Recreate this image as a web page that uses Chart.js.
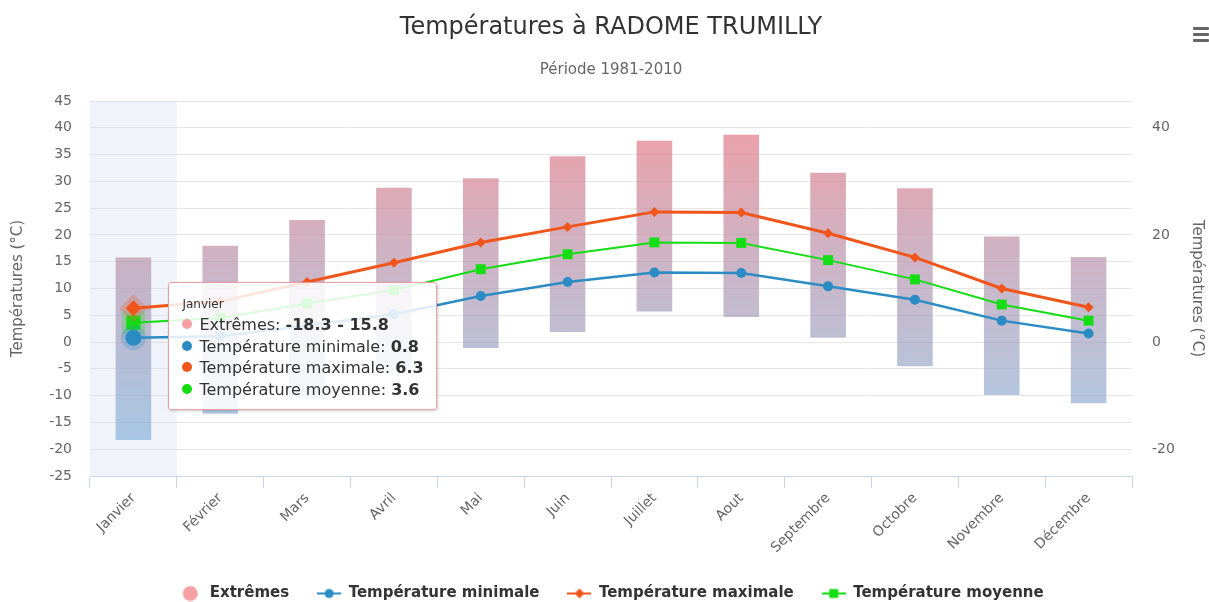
<!DOCTYPE html>
<html lang="fr">
<head>
<meta charset="utf-8">
<title>Températures à RADOME TRUMILLY</title>
<script src="https://cdn.jsdelivr.net/npm/chart.js@4.4.1/dist/chart.umd.min.js"></script>
<style>
  html, body { margin: 0; padding: 0; background: #fff; overflow: hidden; }
  #wrap { position: relative; width: 1209px; height: 611px; }
  #menu { position: absolute; right: 0; top: 27px; width: 16px; }
  #menu span { display: block; height: 3px; background: #666; margin-bottom: 3px; border-radius: 1px; }
  #tip {
    position: absolute; opacity: 0; pointer-events: none;
    background: rgba(255, 255, 255, 0.85);
    border: 1px solid #eb9ea2; border-radius: 3px;
    box-shadow: 1px 1px 3px rgba(0, 0, 0, 0.2);
    padding: 13px 12px 9px 13px;
    font-family: 'DejaVu Sans', sans-serif; color: #333; white-space: nowrap;
  }
  #tip .t { font-size: 12px; line-height: 16px; margin-bottom: 2px; }
  #tip .r { font-size: 16px; line-height: 21.4px; }
  #tip .d { display: inline-block; width: 10px; height: 10px; border-radius: 50%; margin-right: 7px; vertical-align: 1px; }
</style>
</head>
<body>
<div id="wrap">
  <canvas id="c" width="1209" height="611"></canvas>
  <div id="menu"><span></span><span></span><span></span></div>
  <div id="tip"></div>
</div>
<script>
const MONTHS = ['Janvier', 'Février', 'Mars', 'Avril', 'Mai', 'Juin', 'Juillet', 'Aout', 'Septembre', 'Octobre', 'Novembre', 'Décembre']
const EXT_LOW = [-18.3, -13.4, -10.5, -5.5, -1.1, 1.9, 5.7, 4.7, 0.8, -4.5, -9.9, -11.4]
const EXT_HIGH = [15.8, 18.0, 22.8, 28.8, 30.6, 34.7, 37.6, 38.7, 31.6, 28.7, 19.7, 15.9]
const T_MIN = [0.8, 1.1, 3.1, 5.2, 8.6, 11.2, 13.0, 12.9, 10.4, 7.9, 4.0, 1.6]
const T_MAX = [6.3, 7.6, 11.2, 14.8, 18.6, 21.5, 24.3, 24.2, 20.3, 15.8, 10.0, 6.5]
const T_MOY = [3.6, 4.5, 7.2, 9.7, 13.6, 16.4, 18.6, 18.5, 15.3, 11.7, 7.0, 4.0]
const HOVER_INDEX = 0

const C_EXT = '#f4a0a4'
const C_MIN = '#2b8cc4'
const C_MAX = '#f0561b'
const C_MOY = '#14dd14'
const TEXT = '#666666'
const GRID = '#e6e6e6'
const AXIS = '#ccd6eb'

Chart.defaults.font.family = "'DejaVu Sans', sans-serif"

function legendIcon(color, style) {
  const cv = document.createElement('canvas')
  cv.width = 24
  cv.height = 16
  const g = cv.getContext('2d')
  g.fillStyle = color
  if (style === 'dot') {
    g.beginPath()
    g.arc(12, 8, 7.5, 0, Math.PI * 2)
    g.fill()
    return cv
  }
  g.strokeStyle = color
  g.lineWidth = 2
  g.beginPath()
  g.moveTo(0, 8)
  g.lineTo(24, 8)
  g.stroke()
  g.beginPath()
  if (style === 'circle') g.arc(12, 8, 4.5, 0, Math.PI * 2)
  if (style === 'diamond') { g.moveTo(12, 3); g.lineTo(17, 8); g.lineTo(12, 13); g.lineTo(7, 8); g.closePath() }
  if (style === 'square') g.rect(7.5, 3.5, 9, 9)
  g.fill()
  return cv
}

const ICONS = [legendIcon(C_EXT, 'dot'), legendIcon(C_MIN, 'circle'), legendIcon(C_MAX, 'diamond'), legendIcon(C_MOY, 'square')]
const TIP_COLORS = [C_EXT, C_MIN, C_MAX, C_MOY]

function barGradient(ctx) {
  const area = ctx.chart.chartArea
  if (!area) return C_EXT
  const g = ctx.chart.ctx.createLinearGradient(0, area.top, 0, area.bottom)
  g.addColorStop(0, 'rgba(240, 128, 136, 0.78)')
  g.addColorStop(1, 'rgba(110, 176, 222, 0.6)')
  return g
}

const hoverBand = {
  id: 'hoverBand',
  beforeDatasetsDraw(chart) {
    const x = chart.scales.x
    const { top, bottom } = chart.chartArea
    const half = (x.getPixelForValue(1) - x.getPixelForValue(0)) / 2
    const cx = x.getPixelForValue(HOVER_INDEX)
    const ctx = chart.ctx
    ctx.save()
    ctx.fillStyle = 'rgba(204, 214, 235, 0.3)'
    ctx.fillRect(cx - half, top, half * 2, bottom - top)
    ctx.restore()
  },
}

const fmt = (v) => v.toFixed(1)

function renderTip({ chart, tooltip }) {
  const el = document.getElementById('tip')
  if (tooltip.opacity === 0) { el.style.opacity = 0; return }
  const pts = tooltip.dataPoints
  let html = `<div class="t">${pts[0].label}</div>`
  pts.forEach((p) => {
    const v = Array.isArray(p.raw) ? `${fmt(p.raw[0])} - ${fmt(p.raw[1])}` : fmt(p.raw)
    html += `<div class="r"><span class="d" style="background:${TIP_COLORS[p.datasetIndex]}"></span>${p.dataset.label}: <b>${v}</b></div>`
  })
  el.innerHTML = html
  const lineVals = pts.filter((p) => !Array.isArray(p.raw)).map((p) => p.raw)
  const yTop = chart.scales.y.getPixelForValue(Math.max(...lineVals))
  el.style.left = (tooltip.caretX + 35) + 'px'
  el.style.top = (yTop - 26) + 'px'
  el.style.opacity = 1
}

function lineSet(label, data, color, style, radius, width) {
  return {
    type: 'line',
    label,
    data,
    order: 0,
    borderColor: color,
    backgroundColor: color,
    borderWidth: width,
    pointStyle: style,
    pointRadius: radius,
    pointBorderWidth: 0,
    pointHoverRadius: radius + 3,
    pointHoverBorderWidth: 9,
    pointHoverBorderColor: color + '40',
    pointHoverBackgroundColor: color,
    tension: 0,
  }
}

const chart = new Chart(document.getElementById('c'), {
  type: 'bar',
  data: {
    labels: MONTHS,
    datasets: [
      {
        label: 'Extrêmes',
        data: MONTHS.map((_, i) => [EXT_LOW[i], EXT_HIGH[i]]),
        order: 1,
        backgroundColor: barGradient,
        hoverBackgroundColor: barGradient,
        borderWidth: 0,
        categoryPercentage: 0.41,
        barPercentage: 1,
      },
      lineSet('Température minimale', T_MIN, C_MIN, 'circle', 5, 2.5),
      lineSet('Température maximale', T_MAX, C_MAX, 'rectRot', 5, 3),
      lineSet('Température moyenne', T_MOY, C_MOY, 'rect', 7, 2),
    ],
  },
  plugins: [hoverBand],
  options: {
    responsive: false,
    animation: false,
    events: [],
    interaction: { mode: 'index', intersect: false },
    layout: { padding: 0 },
    plugins: {
      title: {
        display: true,
        fullSize: false,
        text: 'Températures à RADOME TRUMILLY',
        color: '#333333',
        font: { size: 24, weight: 'normal' },
        padding: { top: 13.6, bottom: 9 },
      },
      subtitle: {
        display: true,
        fullSize: false,
        text: 'Période 1981-2010',
        color: TEXT,
        font: { size: 15 },
        padding: { top: 10, bottom: 21.6 },
      },
      legend: {
        position: 'bottom',
        fullSize: false,
        labels: {
          usePointStyle: true,
          pointStyleWidth: 24,
          padding: 28,
          color: '#333333',
          font: { size: 15, weight: 'bold' },
          sort: (a, b) => a.datasetIndex - b.datasetIndex,
          generateLabels(ch) {
            const items = Chart.defaults.plugins.legend.labels.generateLabels(ch)
            items.forEach((it) => { it.pointStyle = ICONS[it.datasetIndex] })
            return items
          },
        },
      },
      tooltip: {
        enabled: false,
        external: renderTip,
        itemSort: (a, b) => a.datasetIndex - b.datasetIndex,
      },
    },
    scales: {
      x: {
        offset: true,
        grid: { offset: true, drawOnChartArea: false, color: AXIS, tickLength: 12 },
        border: { color: AXIS },
        ticks: { color: TEXT, font: { size: 14 }, minRotation: 45, maxRotation: 45, autoSkip: false, padding: 2 },
        afterFit: (s) => { s.height = 82 },
      },
      y: {
        position: 'left',
        min: -25,
        max: 45,
        ticks: { stepSize: 5, color: TEXT, font: { size: 14 }, padding: 18 },
        grid: { color: GRID, drawTicks: false },
        border: { display: false },
        title: { display: true, text: 'Températures (°C)', color: TEXT, font: { size: 15 }, padding: { top: 9, bottom: 0 } },
        afterFit: (s) => { s.width = 90 },
      },
      y2: {
        position: 'right',
        min: -25,
        max: 45,
        ticks: { stepSize: 20, color: TEXT, font: { size: 14 }, padding: 20, callback: (v) => (v % 20 === 0 ? v : '') },
        grid: { display: false, drawTicks: false },
        border: { display: false },
        title: { display: true, text: 'Températures (°C)', color: TEXT, font: { size: 15 }, padding: { top: 3, bottom: 0 } },
        afterFit: (s) => { s.width = 77 },
      },
    },
  },
})

const active = chart.data.datasets.map((_, i) => ({ datasetIndex: i, index: HOVER_INDEX }))
chart.setActiveElements(active)
chart.tooltip.setActiveElements(active, { x: 0, y: 0 })
chart.update()
</script>
</body>
</html>
